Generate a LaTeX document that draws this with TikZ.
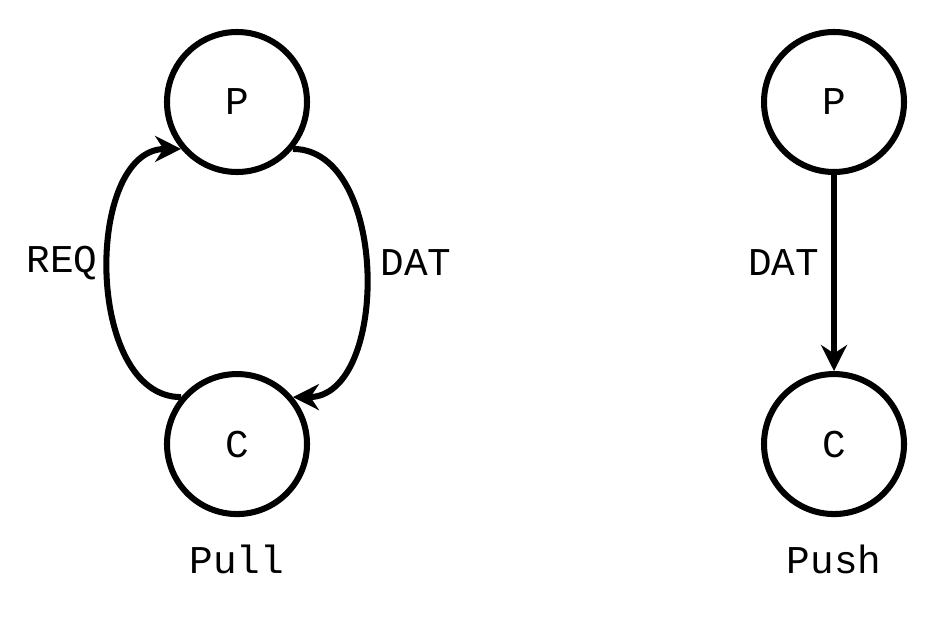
\documentclass[tikz,border=0pt]{standalone}
\usepackage{fontspec}
\setmainfont{Liberation Mono}
\usetikzlibrary{arrows.meta, positioning}

\tikzset{
  state/.style={draw, circle, line width=4.3pt, minimum size=3.5cm, inner sep=0pt},
  flow/.style={line width=4.3pt, -{Stealth[length=6.5mm, width=6.5mm]}},
  lbl/.style={inner sep=0pt}
}

\begin{document}
\begin{tikzpicture}[font=\fontsize{28}{32}\selectfont]
\useasboundingbox (0,0) rectangle (23.5,-15.45);

% pull
\node[state] (P1) at (5.925,-2.55) {P};
\node[state, below=4.9cm of P1] (C1) {C};
\draw[flow] (C1.140) to[out=180, in=180] node[lbl, left=0.2cm, yshift=0.25cm] (req) {REQ} (P1.220);
\draw[flow] (P1.320) to[out=0, in=0] node[lbl, right=0.3cm, yshift=0.25cm] (dat1) {DAT} (C1.40);
\node[lbl, below=0.7cm of C1] (pull) {Pull};

% push
\node[state] (P2) at (20.85,-2.55) {P};
\node[state, below=4.9cm of P2] (C2) {C};
\draw[flow] (P2) -- node[lbl, left=0.3cm, yshift=0.25cm] (dat2) {DAT} (C2);
\node[lbl, below=0.7cm of C2] (push) {Push};
\end{tikzpicture}
\end{document}
